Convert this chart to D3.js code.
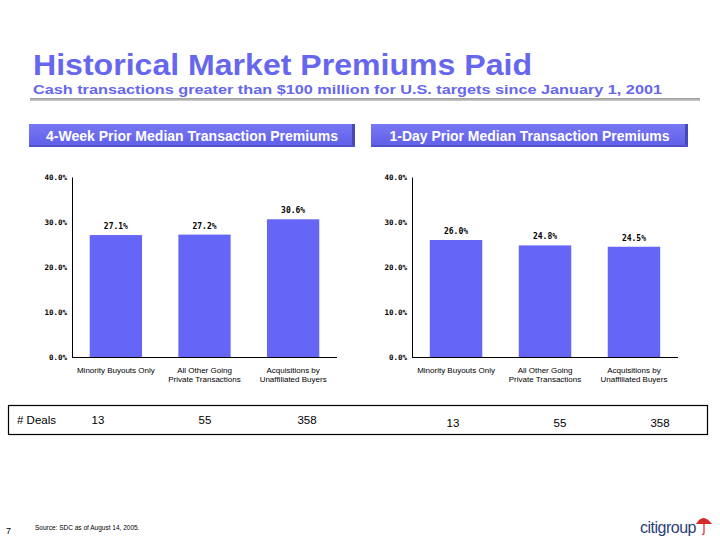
<!DOCTYPE html>
<html><head><meta charset="utf-8">
<script src="https://cdn.jsdelivr.net/npm/d3@7/dist/d3.min.js"></script>
<style>body{margin:0;background:#fff}svg{display:block}</style>
</head><body>
<svg id="c" width="720" height="540"></svg>
<script>
const categories = [["Minority Buyouts Only"], ["All Other Going", "Private Transactions"], ["Acquisitions by", "Unaffiliated Buyers"]];
const fourWeek = [27.1, 27.2, 30.6];
const oneDay = [26.0, 24.8, 24.5];
const yTicks = [0, 10, 20, 30, 40];
const deals = [13, 55, 358];
const panelTitles = ["4-Week Prior Median Transaction Premiums", "1-Day Prior Median Transaction Premiums"];

const svg = d3.select("#c");
const blue = "#6666F6";
const defs = svg.append("defs");
const g1 = defs.append("linearGradient").attr("id","hdr").attr("x1",0).attr("x2",0).attr("y1",0).attr("y2",1);
g1.append("stop").attr("offset","0%").attr("stop-color","#7878F4");
g1.append("stop").attr("offset","100%").attr("stop-color","#5E5EE8");
const g2 = defs.append("linearGradient").attr("id","rule").attr("x1",0).attr("x2",0).attr("y1",0).attr("y2",1);
g2.append("stop").attr("offset","0%").attr("stop-color","#9a9a9a");
g2.append("stop").attr("offset","100%").attr("stop-color","#cfcfcf");

// Title
svg.append("text").attr("x",33).attr("y",75).text("Historical Market Premiums Paid")
  .attr("font-family","Liberation Sans, Arial").attr("font-weight","bold").attr("font-size",29)
  .attr("fill","#6666EE").attr("textLength",499).attr("lengthAdjust","spacingAndGlyphs");
svg.append("text").attr("x",33).attr("y",94).text("Cash transactions greater than $100 million for U.S. targets since January 1, 2001")
  .attr("font-family","Liberation Sans, Arial").attr("font-weight","bold").attr("font-size",13.5)
  .attr("fill","#6666EE").attr("textLength",629).attr("lengthAdjust","spacingAndGlyphs");
svg.append("rect").attr("x",30).attr("y",98).attr("width",670).attr("height",3).attr("fill","url(#rule)");

// Panel headers
const panels = [
  {x:29, w:326, data:fourWeek, x0:72, x1:337, tl:292},
  {x:371, w:317, data:oneDay, x0:412, x1:678, tl:280}
];
panels.forEach((p,i)=>{
  svg.append("rect").attr("x",p.x).attr("y",124).attr("width",p.w).attr("height",23).attr("fill","url(#hdr)");
  svg.append("rect").attr("x",p.x+p.w-3).attr("y",124).attr("width",3).attr("height",23).attr("fill","#4848B8");
  svg.append("rect").attr("x",p.x).attr("y",145).attr("width",p.w).attr("height",2).attr("fill","#5050C8");
  svg.append("text").attr("x",p.x+p.w/2).attr("y",141).attr("text-anchor","middle").text(panelTitles[i])
    .attr("font-family","Liberation Sans, Arial").attr("font-weight","bold").attr("font-size",14).attr("fill","#fff")
    .attr("textLength",p.tl).attr("lengthAdjust","spacingAndGlyphs");
});

// Charts
const y = d3.scaleLinear().domain([0,40]).range([357,177]);
panels.forEach((p,i)=>{
  const x = d3.scaleBand().domain(d3.range(3)).range([p.x0,p.x1]).paddingInner(0.41).paddingOuter(0.2);
  const g = svg.append("g");
  const ax = g.append("g").attr("transform",`translate(${p.x0},0)`)
    .call(d3.axisLeft(y).tickValues(yTicks).tickSize(0).tickPadding(5).tickFormat(d=>d3.format(".1f")(d)+"%"));
  ax.select(".domain").attr("stroke","#000").attr("stroke-width",1);
  ax.selectAll("text").attr("font-family","DejaVu Sans Mono, monospace").attr("font-size",7.5).attr("fill","#000").attr("font-weight","bold");
  g.append("line").attr("x1",p.x0).attr("x2",p.x1).attr("y1",y(0)+0.5).attr("y2",y(0)+0.5).attr("stroke","#000");
  g.selectAll("rect.bar").data(p.data).join("rect").attr("class","bar")
    .attr("x",(d,j)=>x(j)).attr("width",x.bandwidth()).attr("y",d=>y(d)).attr("height",d=>y(0)-y(d)).attr("fill",blue);
  g.selectAll("text.val").data(p.data).join("text").attr("class","val")
    .attr("x",(d,j)=>x(j)+x.bandwidth()/2).attr("y",d=>y(d)-6).attr("text-anchor","middle")
    .text(d=>d3.format(".1f")(d)+"%")
    .attr("font-family","DejaVu Sans Mono, monospace").attr("font-size",8).attr("font-weight","bold");
  categories.forEach((lines,j)=>{
    const t = g.append("text").attr("x",x(j)+x.bandwidth()/2).attr("y",373).attr("text-anchor","middle")
      .attr("font-family","Liberation Sans, Arial").attr("font-size",8).attr("fill","#000");
    lines.forEach((l,k)=>t.append("tspan").attr("x",x(j)+x.bandwidth()/2).attr("dy",k?9:0).text(l));
  });
});

// Deals box
svg.append("rect").attr("x",8.5).attr("y",405.5).attr("width",699).attr("height",29).attr("fill","none").attr("stroke","#000").attr("stroke-width",1.2);
svg.append("text").attr("x",17).attr("y",424).text("# Deals").attr("font-family","Liberation Sans, Arial").attr("font-size",11.5);
const dealX = [[98,205,307],[453,560,660]];
const dealY = [424,427];
dealX.forEach((xs,i)=>{
  svg.selectAll(null).data(deals).join("text").attr("x",(d,j)=>xs[j]).attr("y",dealY[i]).attr("text-anchor","middle")
    .text(d=>d).attr("font-family","Liberation Sans, Arial").attr("font-size",11.5);
});

// Footer
svg.append("text").attr("x",6).attr("y",534).text("7").attr("font-family","Liberation Sans, Arial").attr("font-size",9);
svg.append("text").attr("x",35).attr("y",530).text("Source:  SDC as of August 14, 2005.").attr("font-family","Liberation Sans, Arial").attr("font-size",6.5);
svg.append("text").attr("x",640).attr("y",533).text("citigroup").attr("font-family","Liberation Sans, Arial").attr("font-size",16).attr("fill","#2C3E78").attr("letter-spacing",-0.5);
svg.append("path").attr("d","M696,524 Q703,512 712,524 Z").attr("fill","#D32A2A");
svg.append("path").attr("d","M704,521 L704,533 Q704,535 702,534").attr("fill","none").attr("stroke","#D32A2A").attr("stroke-width",1.2);
</script>
</body></html>
